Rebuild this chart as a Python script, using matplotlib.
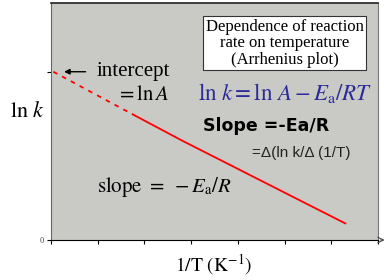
import matplotlib.pyplot as plt

# line (x in tick units, y in axis units 0-10)
dash_x = [0.05, 1.75]
dash_y = [7.1, 5.3]
solid_x = [1.75, 2.8, 4.5, 6.3]
solid_y = [5.3, 4.2, 2.5, 0.7]
xticks = [0, 1, 2, 3, 4, 5, 6, 7]
intercept = 7.1

plt.rcParams['mathtext.fontset'] = 'stix'
serif = 'Liberation Serif'

fig = plt.figure(figsize=(3.91, 2.8), dpi=100)
ax = fig.add_axes([51 / 391, 40 / 280, 327 / 391, 237 / 280])
ax.set_facecolor('#c9c9c5')
ax.set_xlim(0, 7)
ax.set_ylim(0, 10)

ax.plot(dash_x, dash_y, color='red', lw=1.3, ls=(0, (2.5, 3)))
ax.plot(solid_x, solid_y, color='red', lw=1.3)

ax.set_xticks(xticks)
ax.set_xticklabels([])
ax.set_yticks([0, intercept])
ax.set_yticklabels(['0', ''], fontsize=6, family=serif, color='#444444')
ax.tick_params(length=3, width=0.8, pad=2)
ax.spines['top'].set_color('#222222')
ax.spines['top'].set_linewidth(1.2)
ax.spines['right'].set_color('#777777')
ax.spines['left'].set_color('#666666')

# axis arrow on the right
ax.annotate('', xy=(7.2, 0), xytext=(7.0, 0), xycoords='data',
            arrowprops=dict(arrowstyle='->', color='#444444', lw=0.8),
            annotation_clip=False)

ax.annotate('', xy=(0.22, intercept), xytext=(0.8, intercept),
            arrowprops=dict(arrowstyle='-|>', color='black', lw=1, mutation_scale=8))
ax.text(0.98, intercept, 'intercept', family=serif, fontsize=15, va='center')
ax.text(1.4, 6.15, r'$= \mathrm{ln}\,A$', fontsize=15, va='center')
ax.text(0.98, 2.25, r'$\mathrm{slope}\ =\ -E_\mathrm{a}/R$', fontsize=15, va='center')

ax.text(5.0, 8.3, 'Dependence of reaction\nrate on temperature\n(Arrhenius plot)',
        family=serif, fontsize=12, ha='center', va='center', linespacing=1.05,
        bbox=dict(boxstyle='square,pad=0.15', fc='white', ec='#333333', lw=0.8))
ax.text(3.15, 6.2, r'$\mathrm{ln}\ k = \mathrm{ln}\ A - E_\mathrm{a}/RT$',
        color='#2a2a9a', fontsize=16.5, va='center')
ax.text(3.25, 4.8, 'Slope =-Ea/R', fontsize=12.5, fontweight='bold',
        family='DejaVu Sans', va='center')
ax.text(4.3, 3.65, '=Δ(ln k/Δ (1/T)', fontsize=11, family='Liberation Sans',
        color='#222222', va='center')

fig.text(27 / 391, 1 - 111 / 280, r'$\mathrm{ln}\ k$', fontsize=16,
         ha='center', va='center')
fig.text(214 / 391, 1 - 265 / 280, r'$\mathrm{1/T\ (K^{-1})}$', fontsize=14,
         ha='center', va='center')

fig.savefig('out.png', dpi=100)
